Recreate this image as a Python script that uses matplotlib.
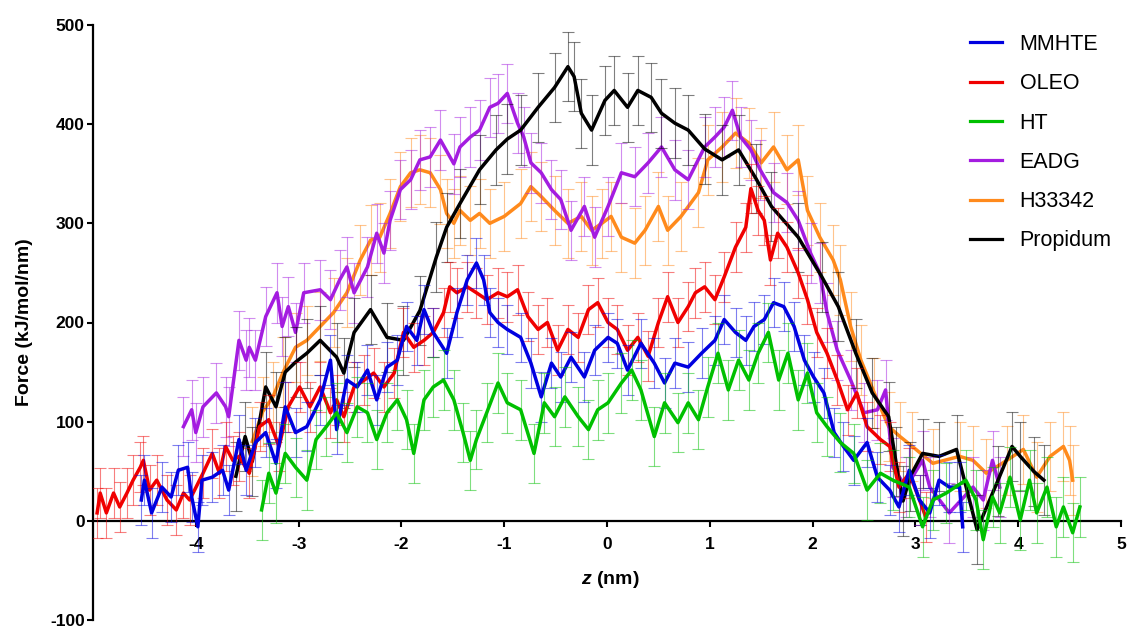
import matplotlib
matplotlib.use("Agg")
import matplotlib.pyplot as plt
import numpy as np

plt.rcParams['font.family'] = ['Liberation Sans', 'DejaVu Sans']
plt.rcParams['mathtext.fontset'] = 'custom'
plt.rcParams['mathtext.bfit'] = 'Liberation Sans:italic:bold'
plt.rcParams['mathtext.it'] = 'Liberation Sans:italic:bold'
plt.rcParams['axes.unicode_minus'] = False

# ---------------- data ----------------
series_names = ["MMHTE", "OLEO", "HT", "EADG", "H33342", "Propidum"]
series_colors = ["#0000e0", "#f00000", "#00c000", "#a41ce0", "#ff8a1c", "#000000"]
series_err = [25, 25, 30, 30, 35, 35]
series_zorder = [6, 5, 7, 3, 2, 4]

mmhte_z = [-4.53, -4.50, -4.43, -4.33, -4.24, -4.17, -4.08, -4.04, -3.98, -3.94, -3.84, -3.74, -3.68, -3.58,
           -3.51, -3.42, -3.32, -3.22, -3.13, -3.03,
           -2.92, -2.79, -2.69, -2.63, -2.53, -2.43, -2.33, -2.24, -2.14, -2.04, -1.95, -1.85, -1.78, -1.69,
           -1.56, -1.46, -1.36, -1.27, -1.20, -1.14,
           -1.06, -0.97, -0.84, -0.74, -0.64, -0.54, -0.45, -0.35, -0.22, -0.12, 0.01, 0.10, 0.20, 0.33, 0.46,
           0.56, 0.66,
           0.79, 0.92, 1.05, 1.14, 1.25, 1.35, 1.43, 1.53, 1.62, 1.72, 1.82, 1.92, 2.01, 2.11, 2.21, 2.30, 2.40,
           2.53, 2.63,
           2.75, 2.84, 2.94, 3.04, 3.14, 3.23, 3.33, 3.43, 3.46]
mmhte_f = [21, 41, 8, 34, 24, 51, 54, 24, -6, 41, 44, 51, 31, 82, 51, 79, 89, 58, 115, 89,
           95, 122, 162, 92, 142, 135, 152, 122, 155, 162, 196, 182, 213, 190, 169, 210, 243, 260, 243, 210,
           200, 193, 185, 159, 125, 159, 145, 165, 145, 172, 185, 179, 152, 179, 159, 139, 159,
           155, 169, 182, 203, 190, 182, 196, 203, 220, 216, 196, 162, 145, 129, 89, 75, 61, 79, 44,
           31, 14, 51, 21, 8, 41, 34, 34, -6]

oleo_z = [-4.96, -4.93, -4.87, -4.80, -4.74, -4.67, -4.61, -4.54, -4.51, -4.45, -4.38, -4.28, -4.19, -4.12,
          -4.06, -3.93, -3.84, -3.77, -3.71, -3.64, -3.58, -3.48, -3.38, -3.29, -3.19, -3.10,
          -2.99, -2.89, -2.79, -2.69, -2.63, -2.56, -2.46, -2.36, -2.27, -2.17, -2.07, -1.98, -1.88, -1.78,
          -1.69, -1.59, -1.53, -1.46, -1.36, -1.27, -1.17,
          -1.06, -0.97, -0.87, -0.77, -0.67, -0.58, -0.48, -0.38, -0.28, -0.18, -0.09, 0.01, 0.10, 0.20,
          0.30, 0.40, 0.50, 0.59, 0.69, 0.79,
          0.86, 0.95, 1.05, 1.14, 1.25, 1.35, 1.40, 1.47, 1.53, 1.59, 1.66, 1.75, 1.86, 1.95, 2.04, 2.14,
          2.24, 2.34, 2.43, 2.53, 2.66,
          2.75, 2.84, 2.94, 3.04, 3.10]
oleo_f = [8, 28, 8, 28, 14, 28, 41, 54, 61, 31, 41, 21, 11, 28, 21, 48, 68, 48, 75, 61, 65, 48, 95, 102, 75, 115,
          135, 115, 135, 109, 122, 105, 135, 142, 149, 135, 149, 190, 175, 182, 190, 210, 236, 230, 236, 230, 223,
          230, 226, 233, 206, 193, 200, 172, 193, 185, 213, 220, 200, 193, 172, 185, 166, 200, 226, 200, 216,
          230, 236, 223, 246, 276, 296, 335, 313, 303, 263, 290, 276, 250, 223, 190, 169, 142, 112, 129, 95, 82,
          75, 34, 48, 21, 4]

ht_z = [-3.36, -3.29, -3.22, -3.13, -3.03, -2.92, -2.83, -2.73, -2.63, -2.53, -2.43, -2.33, -2.24, -2.14,
        -2.04, -1.95, -1.88, -1.78, -1.69, -1.59, -1.49, -1.40, -1.33, -1.27, -1.17,
        -1.06, -0.97, -0.84, -0.71, -0.61, -0.51, -0.41, -0.28, -0.18, -0.09, 0.01, 0.14, 0.24, 0.33, 0.46,
        0.56, 0.69,
        0.79, 0.89, 0.98, 1.08, 1.18, 1.28, 1.38, 1.47, 1.57, 1.67, 1.76, 1.86, 1.95, 2.04, 2.14, 2.27, 2.40,
        2.53, 2.66,
        2.78, 2.94, 3.07, 3.17, 3.30, 3.49, 3.59, 3.66, 3.75, 3.82, 3.92, 4.02, 4.11, 4.18, 4.28, 4.37, 4.44,
        4.53, 4.60]
ht_f = [11, 48, 28, 68, 54, 41, 82, 95, 109, 89, 115, 109, 82, 109, 122, 102, 68, 122, 135, 142, 122, 89, 61,
        82, 109,
        139, 119, 112, 68, 119, 105, 125, 105, 92, 112, 119, 139, 152, 132, 85, 119, 99,
        119, 102, 135, 169, 132, 162, 142, 169, 190, 142, 169, 122, 149, 109, 95, 79, 68, 31, 48,
        41, 34, -6, 21, 28, 41, 21, -19, 24, 8, 44, 1, 41, 8, 34, -6, 14, -12, 14]

eadg_z = [-4.12, -4.04, -4.00, -3.93, -3.80, -3.71, -3.68, -3.58, -3.51, -3.48, -3.42, -3.32, -3.21, -3.16,
          -3.10, -3.03,
          -2.95, -2.79, -2.69, -2.60, -2.53, -2.46, -2.33, -2.24, -2.17, -2.11, -2.01, -1.91, -1.82, -1.72,
          -1.62, -1.49, -1.43, -1.33, -1.24, -1.14,
          -1.06, -0.97, -0.87, -0.81, -0.74, -0.64, -0.54, -0.45, -0.35, -0.22, -0.12, 0.01, 0.14, 0.27,
          0.40, 0.53, 0.66,
          0.79, 0.95, 1.05, 1.14, 1.22, 1.30, 1.40, 1.49, 1.62, 1.75, 1.86, 1.98, 2.07, 2.14, 2.24, 2.37,
          2.50, 2.63, 2.71,
          2.78, 2.91, 3.07, 3.14, 3.33, 3.56, 3.66, 3.75, 3.82]
eadg_f = [95, 112, 89, 115, 129, 115, 105, 182, 162, 175, 162, 206, 230, 196, 216, 190,
          230, 233, 223, 243, 256, 230, 256, 290, 270, 303, 334, 344, 364, 367, 384, 360, 377, 387, 394, 417,
          421, 431, 401, 387, 361, 351, 334, 324, 293, 317, 286, 317, 351, 347, 361, 377, 354,
          344, 377, 387, 397, 414, 387, 374, 354, 331, 321, 303, 270, 250, 210, 172, 142, 109, 112, 132,
          54, 34, 61, 34, 8, 34, 21, 61, 34]

h33342_z = [-3.45, -3.35, -3.25, -3.15, -3.03, -2.92, -2.79, -2.66, -2.53, -2.40, -2.30, -2.21, -2.11, -2.01,
            -1.91, -1.82, -1.72, -1.62, -1.56, -1.49, -1.43, -1.33, -1.24, -1.14,
            -1.00, -0.84, -0.74, -0.64, -0.51, -0.38, -0.25, -0.15, -0.05, 0.04, 0.14, 0.27, 0.37, 0.50,
            0.59, 0.72,
            0.89, 0.98, 1.12, 1.25, 1.38, 1.50, 1.62, 1.75, 1.86, 1.95, 2.07, 2.20, 2.27, 2.37, 2.47, 2.60,
            2.74,
            2.85, 2.97, 3.17, 3.43, 3.56, 3.69, 3.89, 4.05, 4.18, 4.31, 4.44, 4.50, 4.53]
h33342_f = [80, 110, 125, 150, 175, 182, 196, 210, 230, 263, 283, 286, 310, 337, 351, 354, 351, 334, 310, 300,
            313, 303, 310, 300,
            307, 320, 337, 327, 313, 300, 307, 293, 300, 307, 286, 280, 293, 317, 293, 307,
            331, 364, 377, 391, 381, 361, 377, 354, 364, 313, 286, 263, 243, 196, 162, 129, 95,
            85, 75, 58, 65, 61, 48, 61, 72, 44, 65, 75, 61, 41]

propidum_z = [-3.61, -3.52, -3.45, -3.32, -3.22, -3.13, -3.03, -2.92, -2.79, -2.63, -2.56, -2.46, -2.30, -2.14,
              -1.98, -1.82, -1.66, -1.56, -1.43, -1.24, -1.08,
              -0.97, -0.84, -0.67, -0.51, -0.38, -0.32, -0.25, -0.15, -0.02, 0.07, 0.20, 0.30, 0.43, 0.53,
              0.66, 0.79,
              0.95, 1.12, 1.28, 1.45, 1.60, 1.86, 2.09, 2.25, 2.42, 2.58, 2.74,
              2.81, 2.88, 2.95, 3.07, 3.23, 3.40, 3.60, 3.80, 3.94, 4.02, 4.15, 4.25]
propidum_f = [45, 85, 60, 135, 115, 150, 160, 169, 182, 165, 149, 190, 213, 185, 182, 212, 266, 296, 320, 354,
              374,
              385, 394, 417, 437, 458, 448, 411, 394, 424, 434, 417, 434, 427, 411, 401, 394,
              375, 364, 374, 345, 317, 286, 246, 216, 169, 129, 105,
              60, 20, 45, 68, 65, 72, -9, 40, 75, 65, 50, 41]

series_z = [mmhte_z, oleo_z, ht_z, eadg_z, h33342_z, propidum_z]
series_f = [mmhte_f, oleo_f, ht_f, eadg_f, h33342_f, propidum_f]

x_ticks = [-4, -3, -2, -1, 0, 1, 2, 3, 4, 5]
y_ticks = [-100, 0, 100, 200, 300, 400, 500]

# ---------------- figure ----------------
fig = plt.figure(figsize=(11.31, 6.27), dpi=100)
ax = fig.add_axes([93 / 1131, 1 - 620 / 627, (1121 - 93) / 1131, (620 - 25) / 627])

handles = []
for name, col, err, zo, zs, fs in zip(series_names, series_colors, series_err, series_zorder, series_z, series_f):
    zs = np.asarray(zs, float)
    fs = np.asarray(fs, float)
    ax.errorbar(zs, fs, yerr=err, fmt='none', ecolor=col, alpha=0.5, elinewidth=0.8,
                capsize=4, capthick=0.8, zorder=zo)
    ln, = ax.plot(zs, fs, color=col, lw=2.5, zorder=zo + 0.5, label=name)
    handles.append(ln)

ax.set_xlim(-5, 5)
ax.set_ylim(-100, 500)
ax.spines['top'].set_visible(False)
ax.spines['right'].set_visible(False)
ax.spines['bottom'].set_position(('data', 0))
for s in ('left', 'bottom'):
    ax.spines[s].set_linewidth(1.6)
ax.set_xticks(x_ticks)
ax.set_yticks(y_ticks)
ax.tick_params(axis='both', width=1.5, length=4.5, labelsize=12.5)
ax.tick_params(axis='x', pad=7)
ax.tick_params(axis='y', pad=1.5)
for lab in ax.get_xticklabels() + ax.get_yticklabels():
    lab.set_fontweight('bold')

ax.set_ylabel('Force (kJ/mol/nm)', fontsize=14, fontweight='bold')
ax.yaxis.set_label_coords(-0.058, 0.5)
ax.set_xlabel(r'$\mathbfit{z}$ (nm)', fontsize=14, fontweight='bold')
ax.xaxis.set_label_coords(0.503, 0.085)

leg = fig.legend(handles=handles, loc='upper left', bbox_to_anchor=(970 / 1131, 1 - 34 / 627),
                 frameon=False, fontsize=15.5, handlelength=1.5, handletextpad=0.8,
                 labelspacing=0.85, borderpad=0, borderaxespad=0)
for l in leg.get_lines():
    l.set_linewidth(2.3)

fig.savefig('out.png', dpi=100)
